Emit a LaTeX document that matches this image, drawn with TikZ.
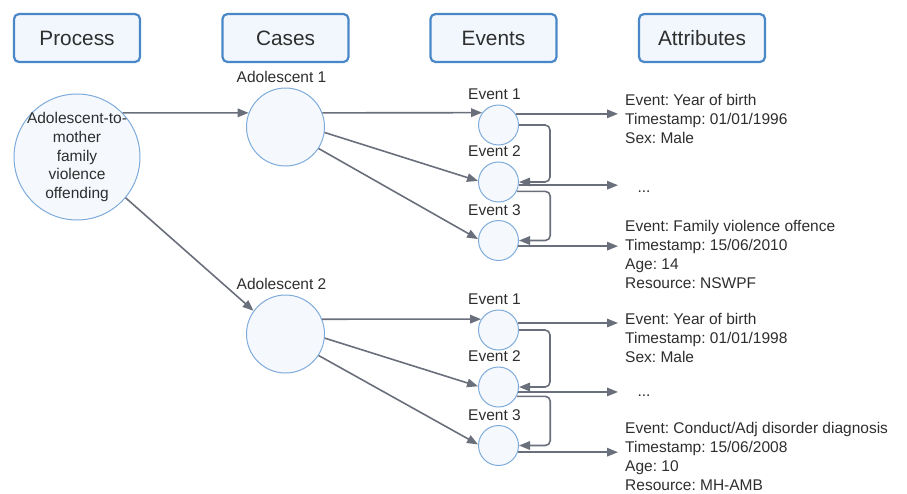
\documentclass[tikz,border=0pt]{standalone}
\usepackage{fontspec}
\setmainfont{Liberation Sans}
\usepackage{xcolor}
\usepackage{tikz}
\usetikzlibrary{arrows.meta}
\frenchspacing

\definecolor{boxline}{HTML}{4A87C8}
\definecolor{boxfill}{HTML}{F2F7FD}
\definecolor{circline}{HTML}{7EABDA}
\definecolor{circfill}{HTML}{F5F9FE}
\definecolor{arrgrey}{HTML}{6A6F7C}
\definecolor{txt}{HTML}{2E2E2E}

\begin{document}
\begin{tikzpicture}[x=1pt,y=-1pt,
  header/.style={draw=boxline, fill=boxfill, line width=2.2pt, rounded corners=5pt,
    minimum width=126pt, minimum height=48pt, inner sep=0pt, text=txt,
    font=\fontsize{20.8}{25}\selectfont},
  bubble/.style={circle, draw=circline, fill=circfill, line width=1pt, inner sep=0pt},
  small/.style={text=txt, font=\fontsize{15.5}{18.8}\selectfont},
  tag/.style={small, inner sep=0pt, xshift=-4pt},
  attr/.style={small, align=left, anchor=north west, inner xsep=7pt, inner ysep=0pt},
  arr/.style={draw=arrgrey, line width=1.6pt, -{Triangle[length=11pt,width=8.5pt]}},
  label distance=4.5pt]
  \useasboundingbox (0,0) rectangle (907,493);

  \node[header] (hproc) at (77,38) {Process};
  \node[header] (hcase) at (285.5,38) {Cases};
  \node[header] (hev) at (493.5,38) {Events};
  \node[header] (hattr) at (702,38) {Attributes};

  \node[bubble, minimum size=126pt,
    label={[small, align=center, inner sep=0pt]center:Adolescent-to-\\mother\\family\\violence\\offending}]
    (proc) at (77,157) {};
  \node[bubble, minimum size=78pt, label={[tag]above:Adolescent 1}] (adol1) at (285.5,127) {};
  \node[bubble, minimum size=78pt, label distance=0.5pt, label={[tag]above:Adolescent 2}] (adol2) at (285.5,334) {};

  \node[bubble, minimum size=40pt, label={[tag]above:Event 1}] (ev11) at (498.5,125) {};
  \node[bubble, minimum size=40pt, label={[tag]above:Event 2}] (ev12) at (498.5,182) {};
  \node[bubble, minimum size=40pt, label={[tag]above:Event 3}] (ev13) at (498.5,240.5) {};
  \node[bubble, minimum size=40pt, label={[tag]above:Event 1}] (ev21) at (498.5,330) {};
  \node[bubble, minimum size=40pt, label={[tag]above:Event 2}] (ev22) at (498.5,387) {};
  \node[bubble, minimum size=40pt, label={[tag]above:Event 3}] (ev23) at (498.5,445.5) {};

  \node[attr] (at11) at (618,94.3) {Event: Year of birth\\Timestamp: 01/01/1996\\Sex: Male};
  \node[small] (dots1) at (644,192) {...};
  \node[attr] (at13) at (618,220.3) {Event: Family violence offence\\Timestamp: 15/06/2010\\Age: 14\\Resource: NSWPF};
  \node[attr] (at21) at (618,313.3) {Event: Year of birth\\Timestamp: 01/01/1998\\Sex: Male};
  \node[small] (dots2) at (644,396) {...};
  \node[attr] (at23) at (618,422.5) {Event: Conduct/Adj disorder diagnosis\\Timestamp: 15/06/2008\\Age: 10\\Resource: MH-AMB};

  \draw[arr] (proc.44) -- (adol1.159);
  \draw[arr] (proc.-40) -- (adol2.144);

  \draw[arr] (adol1.21) -- (ev11.143);
  \draw[arr] (adol1.-8) -- (ev12.177);
  \draw[arr] (adol1.-33) -- (ev13.176);
  \draw[arr] (adol2.22) -- (ev21.148);
  \draw[arr] (adol2.-6) -- (ev22.178);
  \draw[arr] (adol2.-33) -- (ev23.177);

  \draw[arr, rounded corners=5pt] (ev11.east) -- ++(31,0) |- (ev12.east);
  \draw[arr, rounded corners=5pt] (ev12.-27) -- ++(33.5,0) |- (ev13.east);
  \draw[arr, rounded corners=5pt] (ev21.east) -- ++(31,0) |- (ev22.east);
  \draw[arr, rounded corners=5pt] (ev22.-27) -- ++(33.5,0) |- (ev23.east);

  \draw[arr] (ev11.33) -- (ev11.33 -| at11.west);
  \draw[arr] (ev12.-9) -- (ev12.-9 -| at11.west);
  \draw[arr] (ev13.-16) -- (ev13.-16 -| at13.west);
  \draw[arr] (ev21.20) -- (ev21.20 -| at21.west);
  \draw[arr] (ev22.-14) -- (ev22.-14 -| at21.west);
  \draw[arr] (ev23.-19) -- (ev23.-19 -| at23.west);
\end{tikzpicture}
\end{document}
